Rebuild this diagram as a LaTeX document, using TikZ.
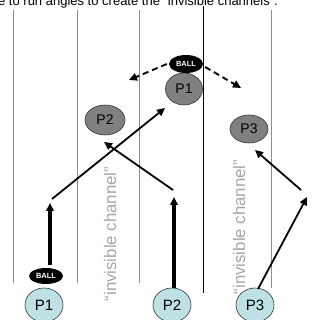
\documentclass[tikz,border=0pt]{standalone}
\usepackage{fontspec}
\setmainfont{Liberation Sans}
\usetikzlibrary{shapes.geometric,arrows.meta}
\definecolor{lightp}{HTML}{BDE1E4}
\definecolor{darkp}{HTML}{808080}
\definecolor{chan}{HTML}{A6A6A6}
\definecolor{gline}{HTML}{8C8C8C}
\begin{document}
\begin{tikzpicture}[x=1pt,y=-1pt,
  gline/.style={draw=gline,line width=0.9pt},
  bline/.style={draw=black,line width=0.9pt},
  pl/.style={ellipse,draw=black!80,line width=0.6pt,fill=lightp,inner sep=0pt,
     minimum width=38pt,minimum height=34pt,font=\fontsize{15}{17}\selectfont},
  pd/.style={ellipse,draw=black!80,line width=0.6pt,fill=darkp,inner sep=0pt,
     font=\fontsize{14}{16}\selectfont},
  ball/.style={ellipse,fill=black,inner sep=0pt,text=white,
     font=\bfseries\fontsize{7.5}{8}\selectfont},
  chantext/.style={rotate=90,anchor=base,text=chan,inner sep=0pt,
     font=\fontsize{16.8}{18}\selectfont},
  tip/.style={-{Triangle[length=8pt,width=7.5pt]}},
  thin/.style={tip,line width=1.8pt},
  thick/.style={tip,line width=3.4pt},
  dsh/.style={tip,line width=1.9pt,dash pattern=on 6pt off 4pt}]
\useasboundingbox (0,0) rectangle (321,320);
\clip (0,0) rectangle (321,320);

% title (cut at the top)
\node[anchor=base east,inner sep=0pt,font=\fontsize{13}{15}\selectfont] (title) at (278,5.2)
  {e to run angles to create the “invisible channels”.};

% vertical field lines
\coordinate (v1t) at (13,10);  \coordinate (v1b) at (13,283);
\coordinate (v2t) at (77,10);  \coordinate (v2b) at (77,283);
\coordinate (v3t) at (139,10); \coordinate (v3b) at (139,283);
\coordinate (v4t) at (203,6);  \coordinate (v4b) at (203,293);
\coordinate (v5t) at (271,10); \coordinate (v5b) at (271,288);
\draw[gline] (v1t) -- (v1b);
\draw[gline] (v2t) -- (v2b);
\draw[gline] (v3t) -- (v3b);
\draw[bline] (v4t) -- (v4b);
\draw[gline] (v5t) -- (v5b);

% channel labels
\node[chantext] (ch1) at (116,234) {“invisible channel”};
\node[chantext] (ch2) at (245,227) {“invisible channel”};

% players at the bottom
\node[pl] (p1b) at (44,305) {P1};
\node[pl] (p2b) at (172,305) {P2};
\node[pl] (p3b) at (255,305) {P3};
\node[ball,minimum width=34pt,minimum height=16pt] (ballb) at (46,276) {BALL};

% players after the run
\node[pd,minimum width=37pt,minimum height=32pt] (p1m) at (184,89) {P1};
\node[pd,minimum width=40pt,minimum height=30pt] (p2m) at (105,120) {P2};
\node[pd,minimum width=38pt,minimum height=28pt] (p3m) at (249,129) {P3};
\node[ball,minimum width=34pt,minimum height=18pt] (ballt) at (186,64) {BALL};

% arrow points
\coordinate (a1s) at (50,265);  \coordinate (a1e) at (50,203);
\coordinate (a2s) at (52,199);  \coordinate (a2e) at (165,108);
\coordinate (a3s) at (173,190); \coordinate (a3e) at (104,142);
\coordinate (a4e) at (174,197);
\coordinate (a5s) at (258,289); \coordinate (a5e) at (307,197);
\coordinate (a6s) at (301,190); \coordinate (a6e) at (255,150);
\coordinate (d1e) at (129,80);
\coordinate (d2e) at (241,88);

\draw[thick] (a1s) -- (a1e);
\draw[thin] (a2s) -- (a2e);
\draw[thin] (a3s) -- (a3e);
\draw[thick] (p2b.north -| a4e) -- (a4e);
\draw[thin] (a5s) -- (a5e);
\draw[thin] (a6s) -- (a6e);
\draw[dsh] (ballt.west) ++(-2,0) -- (d1e);
\draw[dsh] (ballt.east) ++(2,3) -- (d2e);
\end{tikzpicture}
\end{document}
